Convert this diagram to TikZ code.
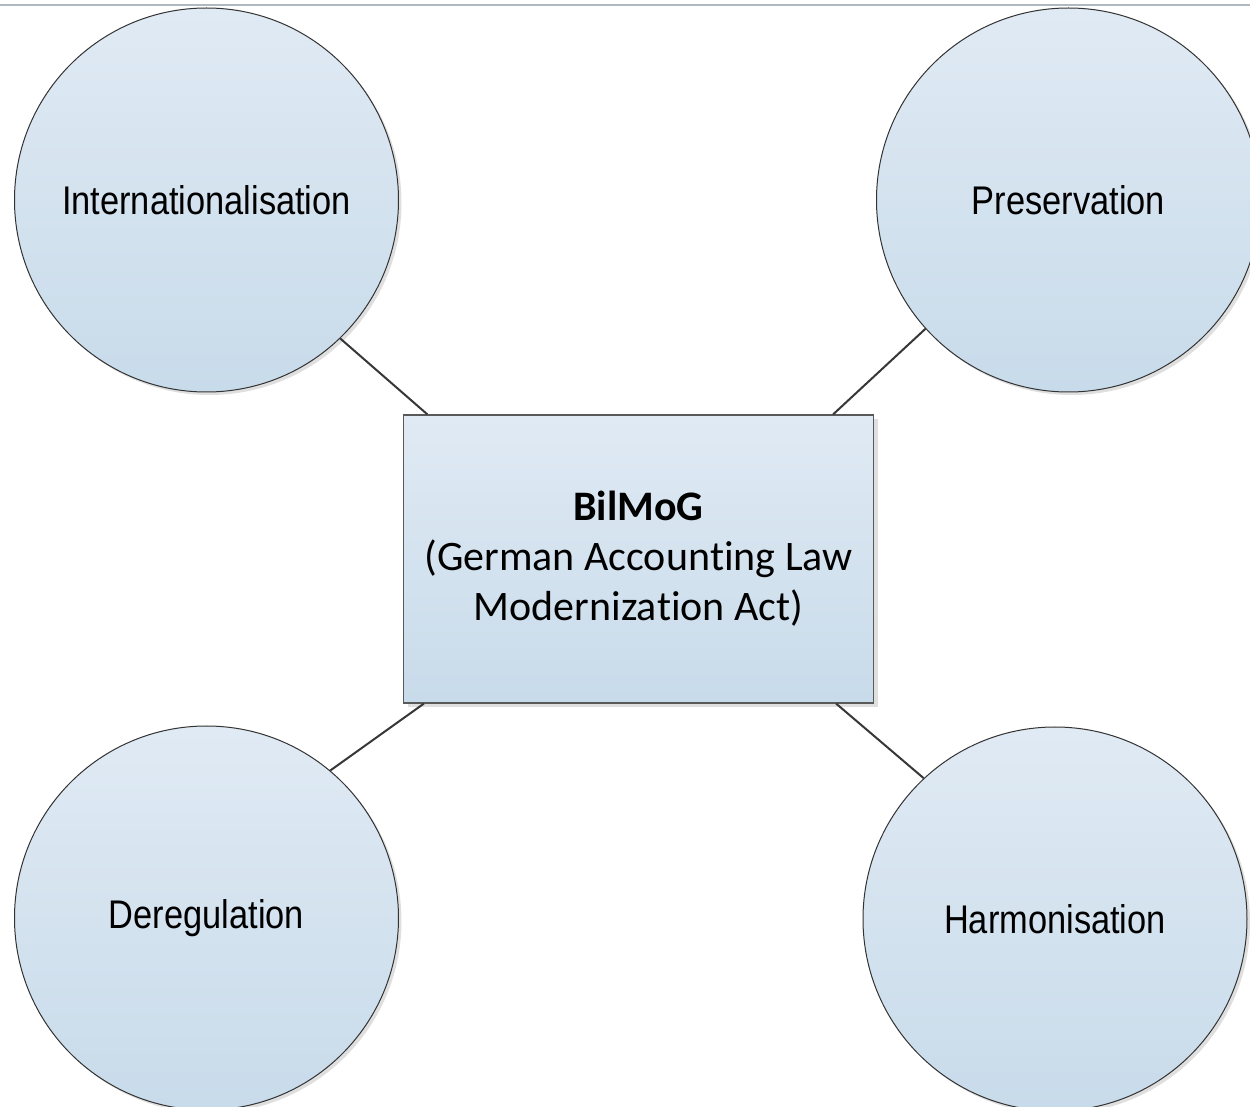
\documentclass[tikz,border=0pt]{standalone}
\usepackage{fontspec}
\setmainfont{Carlito}[Ligatures=NoCommon]
\newfontfamily\narrowsans[FakeStretch=0.86]{Liberation Sans}
\usetikzlibrary{shadows,calc}
\newcommand\brk{\kern0pt{}}
\definecolor{filltop}{RGB}{224,234,244}
\definecolor{fillbot}{RGB}{200,219,234}
\definecolor{linkcol}{RGB}{55,55,55}
\definecolor{rulecol}{RGB}{178,184,192}
\tikzset{
  topic/.style={circle, draw=black!80, line width=0.5pt, minimum size=192pt, inner sep=0pt,
    top color=filltop, bottom color=fillbot,
    drop shadow={shadow xshift=1.5pt, shadow yshift=-1.5pt, opacity=0.25, fill=black!50},
    font=\narrowsans\fontsize{20pt}{24pt}\selectfont},
  centerbox/.style={rectangle, draw=black!65, line width=0.6pt, minimum width=235pt, minimum height=144pt,
    inner sep=0pt, top color=filltop, bottom color=fillbot, align=center,
    drop shadow={shadow xshift=2pt, shadow yshift=-2pt, opacity=0.25, fill=black!50},
    font=\fontsize{21pt}{25pt}\selectfont},
  link/.style={draw=linkcol, line width=1pt}
}
\begin{document}
\begin{tikzpicture}[x=0.5pt,y=-0.5pt]
\useasboundingbox (0,0) rectangle (1250,1107);
\clip (0,0) rectangle (1250,1107);
\fill[white] (0,0) rectangle (1250,1107);
\coordinate (rl) at (0,5);
\coordinate (rr) at (1250,5);
\draw[rulecol, line width=1pt] (rl) -- (rr);
\node[centerbox] (box) at (638.5,559) {\textbf{BilMoG}\\(German Accoun\mbox{t}ing Law\\Moderniza\mbox{t}ion Act)};
\node[topic] (int) at (206.5,200) {Internationalisation};
\node[topic] (pre) at (1068.5,200) {Preservation};
\node[topic] (der) at (206.5,918) {Deregulation};
\node[topic] (har) at (1055,919) {Harmonisation};
\draw[link] (int.-46.4) -- ($(box.north west)+(24.5,0)$);
\draw[link] (pre.222.5) -- ($(box.north east)+(-41,0)$);
\draw[link] (der.50.2) -- ($(box.south west)+(21,0)$);
\draw[link] (har.133.6) -- ($(box.south east)+(-38,0)$);
\end{tikzpicture}
\end{document}
